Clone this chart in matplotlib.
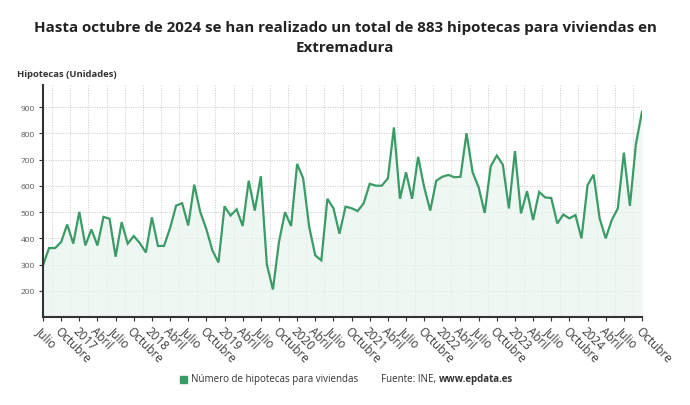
import numpy as np
import matplotlib.pyplot as plt

plt.rcParams['font.family'] = ['Open Sans', 'DejaVu Sans']

# hipotecas mensuales, julio 2016 - octubre 2024
hipotecas = [
    297, 363, 363, 386, 453, 380,
    501, 373, 434, 373, 482, 475, 330, 462, 380, 409, 382, 346,
    480, 371, 371, 439, 525, 534, 449, 605, 500, 435, 354, 308,
    522, 487, 511, 447, 620, 506, 637, 300, 205, 386, 500, 447,
    684, 629, 443, 335, 316, 551, 515, 418, 521, 515, 504, 534,
    608, 601, 601, 629, 823, 551, 652, 551, 711, 595, 506, 620,
    635, 642, 633, 635, 801, 652, 595, 497, 675, 716, 681, 514,
    733, 495, 580, 470, 577, 556, 554, 457, 491, 476, 489, 400,
    603, 643, 476, 400, 470, 514, 727, 524, 761, 883,
]
meses = ['Enero', 'Febrero', 'Marzo', 'Abril', 'Mayo', 'Junio', 'Julio',
         'Agosto', 'Septiembre', 'Octubre', 'Noviembre', 'Diciembre']
anio_inicio = 2016
mes_inicio = 7  # julio

n = len(hipotecas)
x = np.arange(n)

# etiquetas cada 3 meses: el año en enero, el mes en los demás
tick_pos = []
tick_lab = []
for i in range(0, n, 3):
    m = (mes_inicio - 1 + i) % 12
    a = anio_inicio + (mes_inicio - 1 + i) // 12
    tick_pos.append(i)
    tick_lab.append(str(a) if m == 0 else meses[m])

verde = '#3a9b66'

fig = plt.figure(figsize=(6.9, 4.06), dpi=100)
ax = fig.add_axes([43 / 690, 1 - 318 / 406, 599 / 690, 232 / 406])

ax.fill_between(x, hipotecas, 100, color='#e8f5ed', alpha=0.7, lw=0)
ax.plot(x, hipotecas, color=verde, lw=1.6, solid_joinstyle='miter')

ax.set_xlim(0, n - 1)
ax.set_ylim(100, 985)
ax.set_yticks(range(200, 1000, 100))
ax.set_xticks(tick_pos)
ax.set_xticklabels(tick_lab, rotation=-45, ha='left', va='top',
                   rotation_mode='anchor', fontsize=8.5, color='#3a3a3a')
ax.tick_params(axis='x', length=3, width=0.8, color='#333333', pad=2)
ax.tick_params(axis='y', length=3, width=0.8, color='#333333',
               labelsize=6, labelcolor='#555555', pad=3)

# rejilla punteada
for yv in range(200, 1000, 100):
    ax.axhline(yv, color='#c8c8c8', lw=0.7, ls=(0, (1, 1.5)), zorder=0)
for xv in np.arange(1.5, n, 3):
    ax.axvline(xv, color='#c8c8c8', lw=0.7, ls=(0, (1, 1.5)), zorder=0)

for s in ['top', 'right']:
    ax.spines[s].set_visible(False)
ax.spines['left'].set_color('#333333')
ax.spines['left'].set_linewidth(1.5)
ax.spines['bottom'].set_color('#333333')
ax.spines['bottom'].set_linewidth(1.5)

fig.text(0.5, 1 - 28 / 406,
         'Hasta octubre de 2024 se han realizado un total de 883 hipotecas para viviendas en',
         ha='center', va='center', fontsize=10.9, fontweight='bold', color='#222222')
fig.text(0.5, 1 - 48 / 406, 'Extremadura',
         ha='center', va='center', fontsize=10.9, fontweight='bold', color='#222222')
fig.text(17 / 690, 1 - 75 / 406, 'Hipotecas (Unidades)',
         ha='left', va='center', fontsize=6.8, fontweight='bold', color='#333333')

# leyenda y fuente
fig.patches.append(plt.Rectangle((180 / 690, 1 - 384 / 406), 7 / 690, 7 / 406,
                                 transform=fig.transFigure, color=verde))
fig.text(191 / 690, 1 - 380 / 406, 'Número de hipotecas para viviendas',
         ha='left', va='center', fontsize=7, color='#333333')
t = fig.text(381 / 690, 1 - 380 / 406, 'Fuente: INE, ',
             ha='left', va='center', fontsize=7, color='#333333')
fig.canvas.draw()
bb = t.get_window_extent()
fig.text(bb.x1 / 690, 1 - 380 / 406, 'www.epdata.es',
         ha='left', va='center', fontsize=7, fontweight='bold', color='#333333')

fig.savefig('out.png', dpi=100)
